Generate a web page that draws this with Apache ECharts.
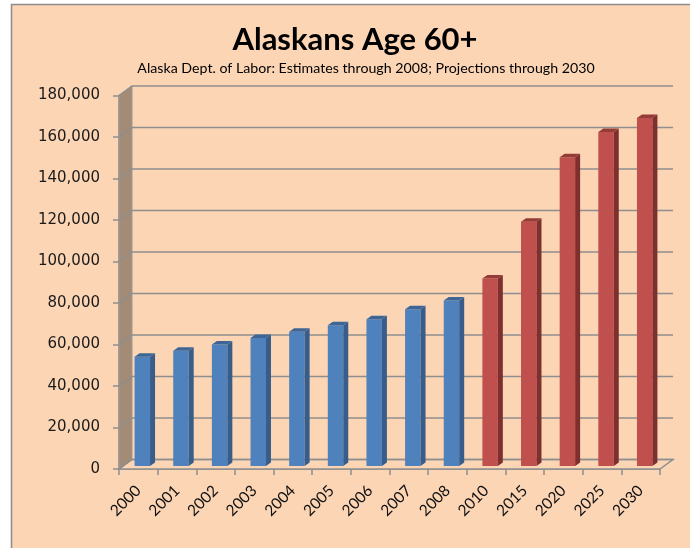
<html>
<head>
    <meta charset="utf-8">
    <title>Alaskans Age 60+</title>
    <script src="https://cdn.jsdelivr.net/npm/echarts@6/dist/echarts.min.js"></script>
    <style>
        body { margin: 0; background: #ffffff; }
        #chartmain { width: 690px; height: 548px; }
    </style>
</head>
<body>
    <div id="chartmain"></div>

    <script type="text/javascript">
        // data
        var years = ['2000', '2001', '2002', '2003', '2004', '2005', '2006', '2007', '2008',
                     '2010', '2015', '2020', '2025', '2030'];
        var estimates = [52700, 55600, 58500, 61700, 64700, 67800, 70700, 75500, 79700];
        var projections = [90400, 117700, 148800, 161000, 167700];
        var yTicks = [0, 20000, 40000, 60000, 80000, 100000, 120000, 140000, 160000, 180000];

        // fake 3d depth of the walls
        var DX = 13, DY = 9.5;
        var gridCol = '#8e8e8e';

        var myChart = echarts.init(document.getElementById('chartmain'));

        // back wall gridlines + side wall lines
        function wallItem(params, api) {
            var cs = params.coordSys;
            var y = api.coord([0, api.value(0)])[1];
            var left = cs.x, right = cs.x + cs.width;
            return {
                type: 'polyline',
                shape: { points: [[left, y], [left + DX, y - DY], [right + DX, y - DY]] },
                style: { stroke: gridCol, lineWidth: 1.5, fill: null }
            };
        }

        // side wall + floor
        function frameItem(params, api) {
            var cs = params.coordSys;
            var left = cs.x, right = cs.x + cs.width;
            var yb = api.coord([0, yTicks[0]])[1];
            var yt = api.coord([0, yTicks[yTicks.length - 1]])[1];
            return {
                type: 'group',
                children: [
                    {
                        type: 'polygon',
                        shape: { points: [[left, yt], [left + DX, yt - DY], [left + DX, yb - DY], [left, yb]] },
                        style: { fill: '#a48b75', stroke: '#9a9a9a', lineWidth: 1 }
                    },
                    {
                        type: 'polygon',
                        shape: { points: [[left, yb], [left + DX, yb - DY], [right + DX, yb - DY], [right, yb]] },
                        style: { fill: '#fcd5b5', stroke: gridCol, lineWidth: 1.5 }
                    }
                ]
            };
        }

        function barItem(front, side, top) {
            return function (params, api) {
                var idx = api.value(0);
                var base = api.coord([idx, 0]);
                var tip = api.coord([idx, api.value(1)]);
                var w = api.size([1, 0])[0] * 0.40;
                var x0 = base[0] + 4 - w / 2, x1 = x0 + w;
                var yb = base[1] - 3, yt = tip[1] - 3;
                var dx = 5, dy = 3.5;
                return {
                    type: 'group',
                    children: [
                        { type: 'rect', shape: { x: x0, y: yt, width: w, height: yb - yt }, style: { fill: front } },
                        { type: 'polygon', shape: { points: [[x1, yt], [x1 + dx, yt - dy], [x1 + dx, yb - dy], [x1, yb]] }, style: { fill: side } },
                        { type: 'polygon', shape: { points: [[x0, yt], [x0 + dx, yt - dy], [x1 + dx, yt - dy], [x1, yt]] }, style: { fill: top } }
                    ]
                };
            };
        }

        myChart.setOption({
            backgroundColor: '#ffffff',
            animation: false,
            graphic: [
                {
                    type: 'rect', z: -10, silent: true,
                    shape: { x: 11.5, y: 4.5, width: 700, height: 600 },
                    style: { fill: '#fcd5b5', stroke: '#8c8c8c', lineWidth: 1.5 }
                },
                {
                    type: 'text', z: 100, x: 355, y: 40,
                    style: { text: 'Alaskans Age 60+', textAlign: 'center', textVerticalAlign: 'middle',
                             font: 'bold 31px Lato', fill: '#000000' }
                },
                {
                    type: 'text', z: 100, x: 366, y: 68,
                    style: { text: 'Alaska Dept. of Labor: Estimates through 2008; Projections through 2030',
                             textAlign: 'center', textVerticalAlign: 'middle', font: '14.2px Lato', fill: '#000000' }
                }
            ],
            grid: { left: 119, right: 30, top: 95.5, bottom: 79 },
            xAxis: {
                type: 'category',
                data: years,
                axisLine: { lineStyle: { color: gridCol, width: 1.5 } },
                axisTick: { show: true, length: 6, interval: 0, lineStyle: { color: gridCol, width: 1.5 } },
                axisLabel: { interval: 0, rotate: 45, margin: 19, fontFamily: 'Lato', fontSize: 15.5, color: '#111111' }
            },
            yAxis: {
                type: 'value',
                min: 0,
                max: 180000,
                interval: 20000,
                axisLine: { show: true, lineStyle: { color: gridCol, width: 1.5 } },
                axisTick: { show: true, length: 6, lineStyle: { color: gridCol, width: 1.5 } },
                splitLine: { show: false },
                axisLabel: {
                    margin: 19, fontFamily: 'DejaVu Sans', fontSize: 15, color: '#1a1a1a',
                    formatter: function (v) { return v.toLocaleString('en-US'); }
                }
            },
            series: [
                { type: 'custom', name: 'frame', z: 1, silent: true, renderItem: frameItem, data: [[0]] },
                { type: 'custom', name: 'walls', z: 1, silent: true, renderItem: wallItem, data: yTicks.map(function (v) { return [v]; }) },
                {
                    type: 'custom', name: 'Estimates', z: 3,
                    renderItem: barItem('#4f81bd', '#385d8a', '#3d6696'),
                    encode: { x: 0, y: 1 },
                    data: estimates.map(function (v, i) { return [i, v]; })
                },
                {
                    type: 'custom', name: 'Projections', z: 3,
                    renderItem: barItem('#c0504d', '#7f2f2d', '#953c39'),
                    encode: { x: 0, y: 1 },
                    data: projections.map(function (v, i) { return [i + estimates.length, v]; })
                }
            ]
        });
    </script>
</body>
</html>
